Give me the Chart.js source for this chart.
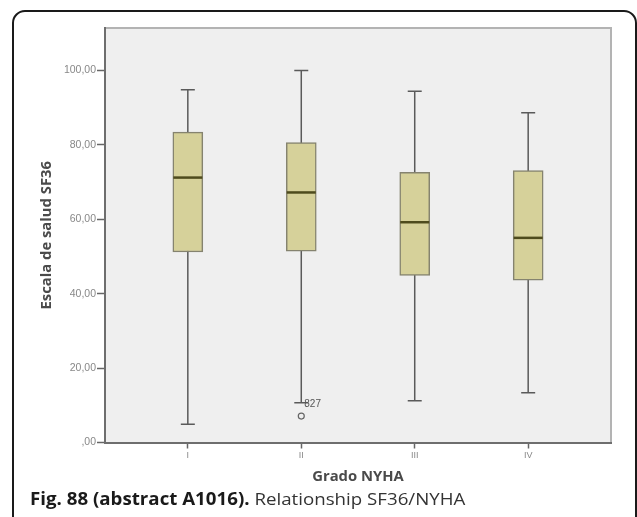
<!DOCTYPE html>
<html>
<head>
<meta charset="utf-8">
<script src="https://cdn.jsdelivr.net/npm/chart.js@4/dist/chart.umd.min.js"></script>
<style>
  html, body { margin: 0; padding: 0; background: #fff; }
  body { width: 637px; height: 517px; position: relative; overflow: hidden; }
  .frame {
    position: absolute; left: 12px; top: 10px; width: 625px; height: 600px;
    box-sizing: border-box; border: 2px solid #1a1a1a; border-radius: 13px;
  }
  .chart-box { position: absolute; left: 0; top: 0; width: 637px; height: 517px; }
  .caption {
    position: absolute; left: 30px; top: 487px; white-space: nowrap;
    font-family: "Open Sans", sans-serif; font-size: 17px; color: #333;
    transform: scaleX(1.1); transform-origin: left top;
  }
  .caption b { color: #1a1a1a; }
</style>
</head>
<body>
<div class="frame"></div>
<div class="chart-box"><canvas id="boxChart" width="637" height="517"></canvas></div>
<div class="caption"><b>Fig. 88 (abstract A1016).</b> Relationship SF36/NYHA</div>
<script>
// values
const CATEGORIES = ['I', 'II', 'III', 'IV'];
const WHISKER_LOW = [4.9, 10.7, 11.2, 13.4];
const Q1 = [51.2, 51.4, 44.9, 43.6];
const MEDIAN = [71.2, 67.2, 59.2, 55.0];
const Q3 = [83.4, 80.6, 72.6, 73.1];
const WHISKER_HIGH = [94.8, 100, 94.4, 88.6];
const OUTLIER_CAT = [2];
const OUTLIER_VALUE = [7.1];
const OUTLIER_LABEL = ['827'];
const Y_TICKS = [0, 20, 40, 60, 80, 100];

const BOX_FILL = '#d6d19a';
const BOX_EDGE = '#85836f';
const MEDIAN_COLOR = '#4e4b1d';
const WHISKER_COLOR = '#5a5a5a';

function yLabel(v) {
  return v === 0 ? ',00' : v.toFixed(2).replace('.', ',');
}

const plotBackground = {
  id: 'plotBackground',
  beforeDraw(chart) {
    const { ctx, chartArea: a } = chart;
    ctx.save();
    ctx.fillStyle = '#efefef';
    ctx.fillRect(a.left, a.top, a.right - a.left, a.bottom - a.top);
    ctx.strokeStyle = '#b3b3b3';
    ctx.lineWidth = 2;
    ctx.beginPath();
    ctx.moveTo(a.left, a.top);
    ctx.lineTo(a.right, a.top);
    ctx.lineTo(a.right, a.bottom);
    ctx.stroke();
    ctx.restore();
  }
};

const whiskers = {
  id: 'whiskers',
  beforeDatasetsDraw(chart) {
    const { ctx, scales: { x, y } } = chart;
    ctx.save();
    ctx.strokeStyle = WHISKER_COLOR;
    ctx.lineWidth = 1.5;
    CATEGORIES.forEach((c, i) => {
      const px = x.getPixelForValue(i + 1);
      const lo = y.getPixelForValue(WHISKER_LOW[i]);
      const hi = y.getPixelForValue(WHISKER_HIGH[i]);
      ctx.beginPath();
      ctx.moveTo(px, lo);
      ctx.lineTo(px, hi);
      ctx.moveTo(px - 7, lo);
      ctx.lineTo(px + 7, lo);
      ctx.moveTo(px - 7, hi);
      ctx.lineTo(px + 7, hi);
      ctx.stroke();
    });
    ctx.restore();
  },
  afterDatasetsDraw(chart) {
    const { ctx, scales: { x, y } } = chart;
    ctx.save();
    ctx.strokeStyle = MEDIAN_COLOR;
    ctx.lineWidth = 2.5;
    CATEGORIES.forEach((c, i) => {
      const px = x.getPixelForValue(i + 1);
      const py = y.getPixelForValue(MEDIAN[i]);
      ctx.beginPath();
      ctx.moveTo(px - 14.5, py);
      ctx.lineTo(px + 14.5, py);
      ctx.stroke();
    });
    ctx.fillStyle = '#555';
    ctx.font = '10px "Liberation Sans", Arial, sans-serif';
    ctx.textBaseline = 'middle';
    OUTLIER_CAT.forEach((c, i) => {
      const px = x.getPixelForValue(c);
      const py = y.getPixelForValue(OUTLIER_VALUE[i]);
      ctx.fillText(OUTLIER_LABEL[i], px + 3, py - 12);
    });
    ctx.restore();
  }
};

new Chart(document.getElementById('boxChart'), {
  type: 'bar',
  data: {
    datasets: [{
      label: 'Escala de salud SF36',
      data: CATEGORIES.map((c, i) => ({ x: i + 1, y: [Q1[i], Q3[i]] })),
      backgroundColor: BOX_FILL,
      borderColor: BOX_EDGE,
      borderWidth: 1.5,
      borderSkipped: false,
      barThickness: 30
    }, {
      type: 'scatter',
      label: 'outliers',
      data: OUTLIER_CAT.map((c, i) => ({ x: c, y: OUTLIER_VALUE[i] })),
      pointRadius: 3,
      pointBorderWidth: 1.2,
      pointBackgroundColor: 'rgba(0,0,0,0)',
      pointBorderColor: '#666'
    }]
  },
  options: {
    responsive: false,
    animation: false,
    events: [],
    layout: { padding: { top: 28, right: 26, left: 0, bottom: 0 } },
    plugins: { legend: { display: false }, tooltip: { enabled: false } },
    scales: {
      x: {
        type: 'linear',
        offset: false,
        min: 0.27,
        max: 4.73,
        afterBuildTicks: s => { s.ticks = CATEGORIES.map((c, i) => ({ value: i + 1 })); },
        afterFit: s => { s.height = 74.5; },
        grid: { offset: false, drawOnChartArea: false, drawTicks: true, tickLength: 6, color: '#666', tickWidth: 1.5 },
        border: { display: true, color: '#6e6e6e', width: 2 },
        ticks: {
          callback: v => CATEGORIES[v - 1] || '',
          color: '#888',
          font: { family: '"Liberation Sans", Arial, sans-serif', size: 9 },
          padding: 2,
          maxRotation: 0
        },
        title: {
          display: true,
          text: 'Grado NYHA',
          color: '#4a4a4a',
          font: { family: '"Open Sans", sans-serif', size: 14.8, weight: 'bold' },
          padding: { top: 0, bottom: 31 }
        }
      },
      y: {
        min: 0,
        max: 111.4,
        afterBuildTicks: s => { s.ticks = Y_TICKS.map(v => ({ value: v })); },
        afterFit: s => { s.width = 105; },
        grid: { drawOnChartArea: false, drawTicks: true, tickLength: 8, color: '#666', tickWidth: 1.5 },
        border: { display: true, color: '#6e6e6e', width: 2 },
        ticks: {
          callback: v => yLabel(v),
          color: '#888',
          font: { family: '"Liberation Sans", Arial, sans-serif', size: 10.5 },
          padding: 1
        },
        title: {
          display: true,
          text: 'Escala de salud SF36',
          color: '#4a4a4a',
          font: { family: '"Open Sans", sans-serif', size: 14.8, weight: 'bold' },
          padding: { top: 38, bottom: 0 }
        }
      }
    }
  },
  plugins: [plotBackground, whiskers]
});
</script>
</body>
</html>
